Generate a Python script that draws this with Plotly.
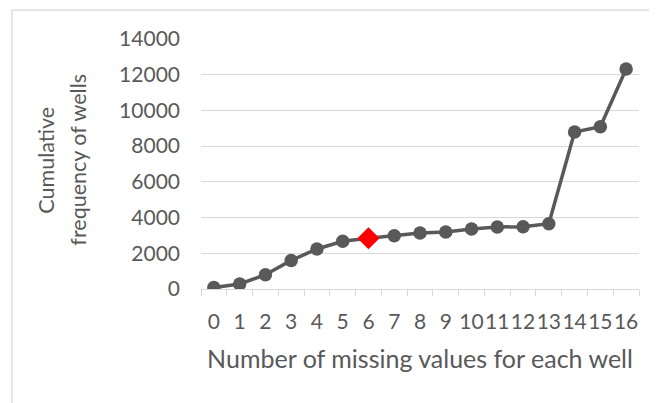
import plotly.graph_objects as go

# missing-value counts per well (categories) and cumulative number of wells
missing_counts = [str(i) for i in range(17)]
cum_wells = [80, 280, 800, 1600, 2240, 2670, 2840, 2985, 3135, 3190,
             3360, 3470, 3490, 3655, 8790, 9090, 12320]
highlight = "6"  # the point drawn as a red diamond
y_ticks = [0, 2000, 4000, 6000, 8000, 10000, 12000, 14000]
y_title_lines = ["Cumulative", "frequency of wells"]

GREY = "#595959"
GRID = "#D9D9D9"
FONT = "Lato"
FS = 21

sym = ["diamond" if c == highlight else "circle" for c in missing_counts]
col = ["#FF0000" if c == highlight else GREY for c in missing_counts]
size = [17 if c == highlight else 13.5 for c in missing_counts]

fig = go.Figure()
fig.add_trace(go.Scatter(
    x=missing_counts, y=cum_wells, mode="lines+markers",
    line=dict(color=GREY, width=3.5),
    marker=dict(symbol=sym, color=col, size=size, opacity=1, line=dict(width=0)),
    showlegend=False,
))

# page has an 8px body margin, so figure coords = page coords - 8
W, H = 657, 403
L, R, T, B = 192.5, 25.5, 31, 121.7
pw = W - L - R
ph = H - T - B
fig.update_layout(
    width=W, height=H,
    margin=dict(l=L, r=R, t=T, b=B, autoexpand=False),
    paper_bgcolor="white", plot_bgcolor="white",
    font=dict(family=FONT, size=FS, color=GREY),
)
fig.update_xaxes(
    type="category", range=[-0.5, len(missing_counts) - 0.5],
    tickmode="array", tickvals=missing_counts, ticktext=missing_counts,
    tickangle=0, tickson="boundaries", ticks="outside", ticklen=6,
    tickcolor=GRID, tickwidth=1.3, showline=True, linecolor=GRID, linewidth=1.3,
    showgrid=False, ticklabelstandoff=14, tickfont=dict(size=FS, color=GREY),
    title=dict(text="Number of missing values for each well",
               font=dict(size=25, color=GREY), standoff=18),
)
fig.update_yaxes(
    range=[0, 14000], tickmode="array", tickvals=y_ticks,
    ticktext=[str(v) for v in y_ticks], showgrid=True, gridcolor=GRID,
    gridwidth=1.3, zeroline=False, showline=False, ticks="",
    ticklabelstandoff=20, tickfont=dict(size=FS, color=GREY),
)

# two-line vertical y title, placed like the original (page x 45 and 77)
for line, px in zip(y_title_lines, [45, 77]):
    fig.add_annotation(
        text=line, textangle=-90, showarrow=False,
        xref="paper", yref="paper",
        x=(px - 8 - L) / pw, y=1 - (160 - 8 - T) / ph,
        xanchor="center", yanchor="middle",
        font=dict(size=21.5, color=GREY),
    )

# light frame of the chart area (left and top edges visible)
x0 = (3 - L) / pw
y_top = 1 + (T - 2) / ph
fig.add_shape(type="line", xref="paper", yref="paper", x0=x0, x1=x0,
              y0=-(H - T - ph) / ph - 0.01, y1=y_top, line=dict(color=GRID, width=1.3))
fig.add_shape(type="line", xref="paper", yref="paper", x0=x0, x1=1 + R / pw + 0.01,
              y0=y_top, y1=y_top, line=dict(color=GRID, width=1.3))

fig.write_html("out.html")
